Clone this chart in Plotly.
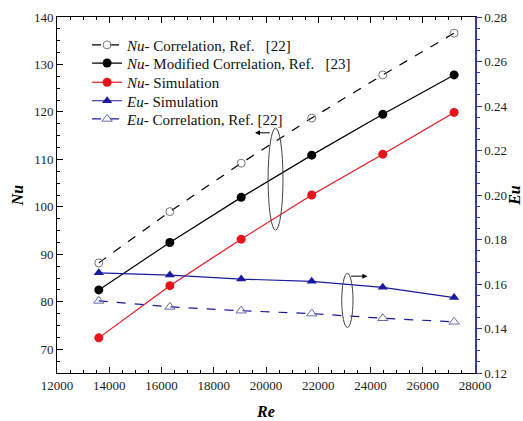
import plotly.graph_objects as go

re_vals = [13600, 16320, 19050, 21750, 24470, 27200]
nu_corr = [88.2, 99.0, 109.2, 118.7, 127.8, 136.6]
nu_mod = [82.5, 92.5, 102.0, 110.9, 119.5, 127.8]
nu_sim = [72.4, 83.4, 93.2, 102.5, 111.1, 119.9]
eu_sim = [0.1650, 0.1640, 0.1622, 0.1612, 0.1585, 0.1539]
eu_corr = [0.1524, 0.1497, 0.1480, 0.1467, 0.1446, 0.1430]

SERIF = "Liberation Serif"
BLUE = "#1a1aa0"
RED = "#e8141c"

fig = go.Figure()
fig.add_trace(go.Scatter(x=re_vals, y=nu_corr, mode="lines+markers", legend="legend",
    name="<i>Nu</i>- Correlation, Ref.   [22]",
    line=dict(color="black", width=1.2, dash="dash"),
    marker=dict(symbol="circle-open", size=8, color="#777777", line=dict(width=1))))
fig.add_trace(go.Scatter(x=re_vals, y=nu_mod, mode="lines+markers", legend="legend2",
    name="<i>Nu</i>- Modified Correlation, Ref.   [23]",
    line=dict(color="black", width=1.2),
    marker=dict(symbol="circle", size=9, color="black")))
fig.add_trace(go.Scatter(x=re_vals, y=nu_sim, mode="lines+markers", legend="legend3",
    name="<i>Nu</i>- Simulation",
    line=dict(color=RED, width=1.2),
    marker=dict(symbol="circle", size=9, color=RED)))
fig.add_trace(go.Scatter(x=re_vals, y=eu_sim, mode="lines+markers", yaxis="y2", legend="legend4",
    name="<i>Eu</i>- Simulation",
    line=dict(color=BLUE, width=1.2),
    marker=dict(symbol="triangle-up", size=9, color=BLUE)))
fig.add_trace(go.Scatter(x=re_vals, y=eu_corr, mode="lines+markers", yaxis="y2", legend="legend5",
    name="<i>Eu</i>- Correlation, Ref. [22]",
    line=dict(color=BLUE, width=1.2, dash="dash"),
    marker=dict(symbol="triangle-up-open", size=9, color="#6a6ab0", line=dict(width=1))))

# ellipses and arrows
fig.add_shape(type="circle", xref="x", yref="y", x0=20080, x1=20650, y0=95.1, y1=116.6,
              line=dict(color="#444444", width=1))
fig.add_shape(type="circle", xref="x", yref="y", x0=22900, x1=23330, y0=74.6, y1=86.0,
              line=dict(color="#444444", width=1))
fig.add_annotation(x=19580, y=115.6, ax=20200, ay=115.6, xref="x", yref="y",
                   axref="x", ayref="y", text="", showarrow=True, arrowhead=2,
                   arrowsize=1, arrowwidth=1, arrowcolor="black")
fig.add_annotation(x=23880, y=85.4, ax=23200, ay=85.4, xref="x", yref="y",
                   axref="x", ayref="y", text="", showarrow=True, arrowhead=2,
                   arrowsize=1, arrowwidth=1, arrowcolor="black")

tickfont = dict(family=SERIF, size=13, color="#222222")
titlefont = dict(family=SERIF, size=16, color="black", weight="bold", style="italic")

legend_rows = [0.921, 0.870, 0.816, 0.764, 0.713]
legends = {}
for i, yv in enumerate(legend_rows):
    key = "legend" if i == 0 else "legend%d" % (i + 1)
    legends[key] = dict(x=0.072, y=yv, xanchor="left", yanchor="middle",
                        bgcolor="rgba(0,0,0,0)",
                        font=dict(family=SERIF, size=15, color="#111111"),
                        itemwidth=30)

fig.update_layout(
    width=523, height=421,
    margin=dict(l=57, r=48, t=17, b=48),
    paper_bgcolor="white", plot_bgcolor="white",
    font=dict(family=SERIF, color="black"),
    showlegend=True,
    **legends,
    xaxis=dict(range=[12000, 28000], dtick=2000, tick0=12000, showgrid=False, zeroline=False,
               showline=True, linecolor="black", linewidth=1, mirror="ticks",
               ticks="inside", ticklen=6, tickcolor="black", tickformat="d",
               minor=dict(dtick=500, ticks="inside", ticklen=3, tickcolor="black"),
               tickfont=tickfont, automargin=False,
               title=dict(text="<b><i>Re</i></b>", font=titlefont, standoff=14)),
    yaxis=dict(range=[65, 140], dtick=10, tick0=70, showgrid=False, zeroline=False,
               showline=True, linecolor="black", linewidth=1,
               ticks="inside", ticklen=6, tickcolor="black",
               minor=dict(dtick=2.5, ticks="inside", ticklen=3, tickcolor="black"),
               tickfont=tickfont, automargin=False,
               title=dict(text="<b><i>Nu</i></b>", font=titlefont, standoff=6)),
    yaxis2=dict(range=[0.12, 0.28], dtick=0.02, tick0=0.12, overlaying="y", side="right",
                showgrid=False, zeroline=False, showline=True, linecolor="#3a3a9a", linewidth=1.5,
                ticks="outside", ticklen=5, tickcolor="#3a3a9a", tickformat=".2f",
                minor=dict(dtick=0.005, ticks="outside", ticklen=3, tickcolor="#3a3a9a"),
                tickfont=tickfont, automargin=False,
                title=dict(text="<b><i>Eu</i></b>", font=titlefont, standoff=2)),
)

fig.write_html("out.html")
